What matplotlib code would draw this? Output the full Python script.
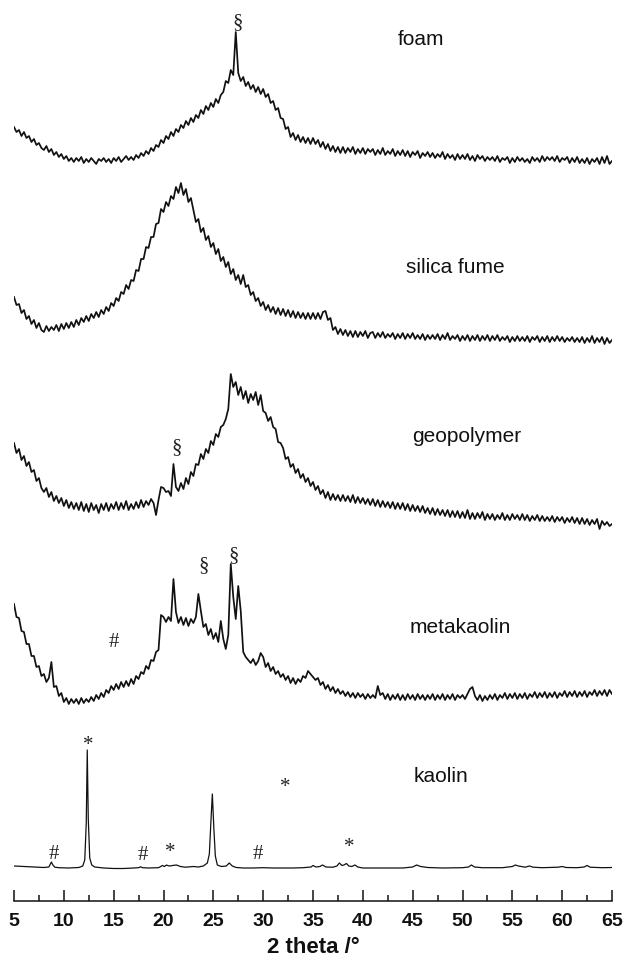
import numpy as np
import matplotlib
matplotlib.use("Agg")
import matplotlib.pyplot as plt
from matplotlib.ticker import MultipleLocator

# 2 theta grid of the four noisy scans (0.25 deg steps)
two_theta = np.linspace(5, 65, 241)

# intensities (a.u., above each trace's own baseline)
foam = [
    40, 35, 37, 31, 35, 29, 31, 25, 28, 22, 24, 19,
    17, 21, 15, 18, 12, 15, 10, 13, 8, 11, 6, 9,
    5, 9, 6, 10, 4, 8, 5, 9, 6, 3, 8, 6,
    9, 5, 8, 4, 9, 6, 10, 5, 8, 11, 7, 10,
    7, 12, 9, 14, 11, 16, 13, 19, 16, 22, 20, 27,
    24, 31, 28, 35, 31, 38, 35, 42, 39, 46, 42, 49,
    45, 52, 49, 57, 53, 61, 57, 64, 60, 68, 64, 72,
    75, 86, 84, 97, 92, 135, 94, 86, 90, 81, 85, 78,
    82, 75, 80, 73, 78, 70, 73, 64, 66, 57, 59, 49,
    48, 38, 40, 30, 34, 27, 32, 25, 30, 24, 29, 23,
    29, 23, 27, 20, 25, 18, 23, 16, 21, 15, 20, 14,
    20, 14, 19, 15, 20, 13, 18, 14, 19, 13, 18, 15,
    18, 12, 17, 13, 19, 12, 16, 13, 18, 11, 16, 12,
    17, 11, 16, 10, 15, 12, 16, 9, 14, 11, 15, 10,
    14, 9, 13, 10, 15, 8, 13, 9, 12, 7, 13, 8,
    12, 8, 13, 7, 11, 6, 12, 8, 11, 6, 10, 7,
    10, 6, 11, 5, 9, 7, 10, 4, 9, 5, 10, 6,
    9, 5, 8, 4, 10, 6, 9, 5, 11, 6, 10, 7,
    10, 6, 11, 5, 9, 7, 10, 4, 9, 5, 10, 4,
    8, 4, 9, 3, 8, 5, 9, 3, 10, 4, 11, 3,
    6]

silica_fume = [
    50, 42, 43, 34, 37, 28, 31, 23, 27, 19, 24, 17,
    15, 21, 16, 20, 17, 22, 16, 23, 18, 24, 19, 25,
    20, 27, 22, 29, 25, 31, 26, 33, 29, 35, 30, 37,
    33, 40, 36, 44, 41, 49, 46, 55, 53, 62, 58, 67,
    66, 77, 76, 88, 88, 100, 99, 110, 110, 123, 124, 138,
    135, 145, 141, 151, 148, 160, 154, 164, 152, 158, 145, 149,
    137, 125, 128, 115, 119, 107, 111, 100, 104, 93, 98, 86,
    90, 80, 85, 73, 78, 67, 72, 63, 72, 60, 62, 52,
    55, 46, 49, 41, 45, 37, 42, 35, 40, 33, 39, 32,
    38, 31, 37, 30, 36, 29, 35, 29, 34, 28, 34, 28,
    34, 28, 34, 28, 35, 36, 27, 29, 17, 20, 13, 18,
    12, 17, 11, 16, 10, 16, 10, 15, 11, 16, 9, 14,
    15, 9, 14, 10, 15, 9, 13, 10, 14, 8, 13, 9,
    14, 8, 13, 9, 14, 8, 12, 8, 13, 7, 12, 8,
    12, 8, 13, 7, 12, 8, 14, 7, 11, 8, 12, 6,
    11, 7, 12, 6, 11, 7, 12, 6, 11, 7, 12, 6,
    11, 7, 12, 6, 10, 7, 11, 5, 10, 6, 11, 6,
    10, 6, 11, 5, 10, 7, 11, 5, 10, 6, 11, 5,
    10, 6, 11, 6, 10, 5, 9, 6, 10, 5, 9, 5,
    10, 4, 9, 5, 11, 4, 9, 5, 10, 3, 9, 4,
    7]

geopolymer = [
    84, 74, 78, 67, 71, 61, 65, 55, 57, 46, 49, 39,
    35, 39, 30, 35, 26, 31, 24, 29, 21, 27, 19, 25,
    18, 24, 17, 25, 16, 23, 15, 24, 17, 22, 14, 23,
    17, 24, 16, 23, 18, 25, 17, 24, 18, 26, 17, 23,
    18, 25, 19, 27, 20, 26, 22, 28, 24, 12, 27, 40,
    39, 35, 36, 31, 63, 40, 36, 44, 38, 49, 43, 55,
    51, 63, 62, 73, 68, 78, 74, 86, 82, 93, 90, 100,
    102, 108, 118, 153, 140, 145, 132, 140, 128, 136, 124, 133,
    127, 135, 122, 132, 116, 114, 106, 110, 100, 98, 85, 84,
    79, 68, 70, 60, 63, 54, 58, 49, 53, 45, 49, 41,
    45, 37, 41, 33, 37, 29, 35, 27, 33, 27, 32, 26,
    32, 26, 31, 25, 32, 24, 30, 24, 29, 23, 28, 22,
    28, 21, 27, 20, 26, 20, 25, 19, 25, 18, 24, 18,
    24, 17, 23, 16, 22, 16, 21, 15, 21, 14, 19, 13,
    19, 12, 18, 12, 17, 11, 17, 10, 16, 10, 16, 9,
    15, 9, 17, 8, 14, 8, 14, 9, 15, 7, 13, 8,
    13, 7, 12, 8, 14, 7, 12, 7, 13, 8, 12, 7,
    13, 7, 12, 6, 11, 7, 12, 6, 11, 6, 10, 6,
    11, 5, 10, 6, 10, 4, 9, 5, 10, 4, 9, 3,
    9, 3, 8, 2, 7, 3, 8, -2, 6, 2, 5, 1,
    3]

metakaolin = [
    103, 90, 89, 76, 75, 63, 63, 51, 51, 40, 41, 31,
    33, 25, 29, 45, 20, 21, 11, 14, 5, 9, 3, 8,
    4, 8, 3, 9, 4, 8, 5, 10, 6, 12, 8, 14,
    10, 17, 14, 21, 17, 23, 18, 25, 20, 26, 21, 28,
    23, 31, 28, 35, 33, 41, 38, 47, 46, 55, 57, 92,
    90, 85, 90, 86, 128, 95, 84, 90, 82, 89, 81, 88,
    84, 90, 113, 96, 80, 83, 72, 78, 68, 74, 65, 86,
    68, 58, 72, 143, 110, 88, 121, 96, 55, 50, 47, 44,
    48, 42, 46, 54, 50, 40, 44, 36, 40, 33, 36, 30,
    33, 27, 31, 24, 29, 23, 28, 25, 31, 29, 36, 33,
    30, 27, 29, 22, 25, 18, 22, 16, 20, 14, 18, 13,
    16, 11, 15, 10, 14, 9, 14, 10, 13, 8, 13, 9,
    12, 9, 21, 12, 14, 8, 13, 7, 12, 8, 13, 7,
    12, 7, 13, 8, 12, 7, 13, 8, 12, 7, 12, 8,
    13, 7, 12, 8, 13, 7, 12, 8, 13, 7, 12, 9,
    12, 8, 13, 18, 20, 11, 7, 12, 6, 11, 7, 12,
    8, 13, 7, 12, 9, 14, 8, 13, 9, 14, 8, 13,
    9, 14, 8, 13, 10, 15, 9, 14, 10, 15, 9, 14,
    10, 15, 9, 14, 11, 16, 10, 15, 11, 16, 10, 15,
    11, 16, 10, 15, 12, 17, 11, 16, 12, 17, 11, 17,
    13]

# kaolin is a clean crystalline pattern, read point by point
kaolin_2theta = [
    5.0, 6.0, 7.0, 8.0, 8.5, 8.75, 8.9, 9.1, 9.5, 10.5,
    11.5, 11.9, 12.1, 12.25, 12.35, 12.45, 12.6, 12.8, 13.1, 14.0,
    15.0, 16.0, 17.0, 17.5, 17.7, 17.9, 18.5, 19.5, 19.9, 20.1,
    20.3, 20.4, 20.6, 20.9, 21.3, 21.7, 22.2, 23.0, 23.5, 24.0,
    24.4, 24.6, 24.75, 24.9, 25.05, 25.2, 25.4, 25.8, 26.3, 26.6,
    26.9, 27.3, 28.0, 29.0, 30.0, 31.0, 32.0, 33.0, 34.0, 34.8,
    35.0, 35.3, 35.7, 35.95, 36.3, 37.0, 37.4, 37.65, 37.9, 38.1,
    38.35, 38.6, 38.9, 39.2, 39.5, 40.0, 42.0, 44.0, 45.0, 45.4,
    45.8, 46.5, 48.0, 50.0, 50.6, 50.9, 51.2, 52.0, 54.0, 55.0,
    55.3, 55.6, 56.3, 56.7, 57.1, 58.0, 59.6, 60.0, 60.4, 61.5,
    62.2, 62.5, 62.8, 64.0, 65.0]
kaolin = [
    2, 1.5, 1, 0.5, 1, 6, 3, 0.8, 0.3, 0,
    0.5, 2, 8, 45, 118, 50, 10, 3, 1, 0,
    -0.5, -0.5, 0, 0.3, 1.2, 0.3, 0, 0.3, 2.5, 1.5,
    3, 2.5, 2, 2.5, 3, 1.5, 0.8, 1.5, 1, 2,
    5, 14, 45, 74, 40, 12, 3, 1.5, 2, 5,
    2, 0.5, 0, 0, 0.3, 0, 0, 0, 0.3, 1,
    2.5, 1, 1.5, 3, 1, 0.8, 2, 5, 2.5, 3,
    4.5, 2, 1.5, 3, 1, 0, 0, 0, 1, 3,
    1.5, 0.5, 0, 0.3, 1, 3, 1, 0.3, 0.3, 1.5,
    3, 2, 0.8, 2, 0.8, 0.3, 0.8, 1.5, 0.5, 0.3,
    1, 2.5, 0.8, 0.3, 0.5]

names = ["foam", "silica fume", "geopolymer", "metakaolin", "kaolin"]
shifts = [734, 554, 374, 194, 33]          # vertical stacking
label_pos = [(43.5, 857), (44.3, 629), (44.9, 460), (44.7, 269), (45.1, 120)]

# phase marks: (2theta, height, symbol)
marks = [
    (27.4, 875, "§"),
    (21.35, 450, "§"),
    (24.0, 332, "§"), (27.0, 342, "§"), (15.0, 255, "#"),
    (9.0, 43, "#"), (12.4, 152, "*"), (17.9, 42, "#"), (20.7, 45, "*"),
    (29.5, 43, "#"), (38.6, 50, "*"), (32.2, 110, "*"),
]

plt.rcParams["font.family"] = ["Liberation Sans", "DejaVu Sans"]

fig = plt.figure(figsize=(6.28, 9.62), dpi=100)
ax = fig.add_axes([14 / 628, 60 / 962, 598 / 628, 902 / 962])

ink = "#111111"
for ys, off in zip([foam, silica_fume, geopolymer, metakaolin], shifts[:4]):
    ax.plot(two_theta, np.array(ys) + off, color=ink, lw=1.25)
ax.plot(kaolin_2theta, np.array(kaolin) + shifts[4], color=ink, lw=0.9)

for name, (x, y) in zip(names, label_pos):
    ax.text(x, y, name, fontsize=15, color=ink, ha="left", va="baseline")

for x, y, s in marks:
    ax.text(x, y, s, fontsize=15, color="#222222", ha="center", va="baseline",
            family=["Liberation Serif", "DejaVu Serif"])

ax.set_xlim(5, 65)
ax.set_ylim(0, 902)
for side in ["left", "right", "top"]:
    ax.spines[side].set_visible(False)
ax.spines["bottom"].set_linewidth(1.1)
ax.spines["bottom"].set_color(ink)
ax.set_yticks([])
ax.xaxis.set_major_locator(MultipleLocator(5))
ax.xaxis.set_minor_locator(MultipleLocator(2.5))
ax.tick_params(axis="x", which="major", direction="in", length=8, width=1.1,
               pad=8, labelsize=14, colors=ink)
ax.tick_params(axis="x", which="minor", direction="in", length=4, width=1.1,
               colors=ink)
for lbl in ax.get_xticklabels():
    lbl.set_fontweight("bold")
ax.set_xlabel("2 theta /°", fontsize=16, fontweight="bold", labelpad=5,
              color=ink)

fig.savefig("out.png", dpi=100)
